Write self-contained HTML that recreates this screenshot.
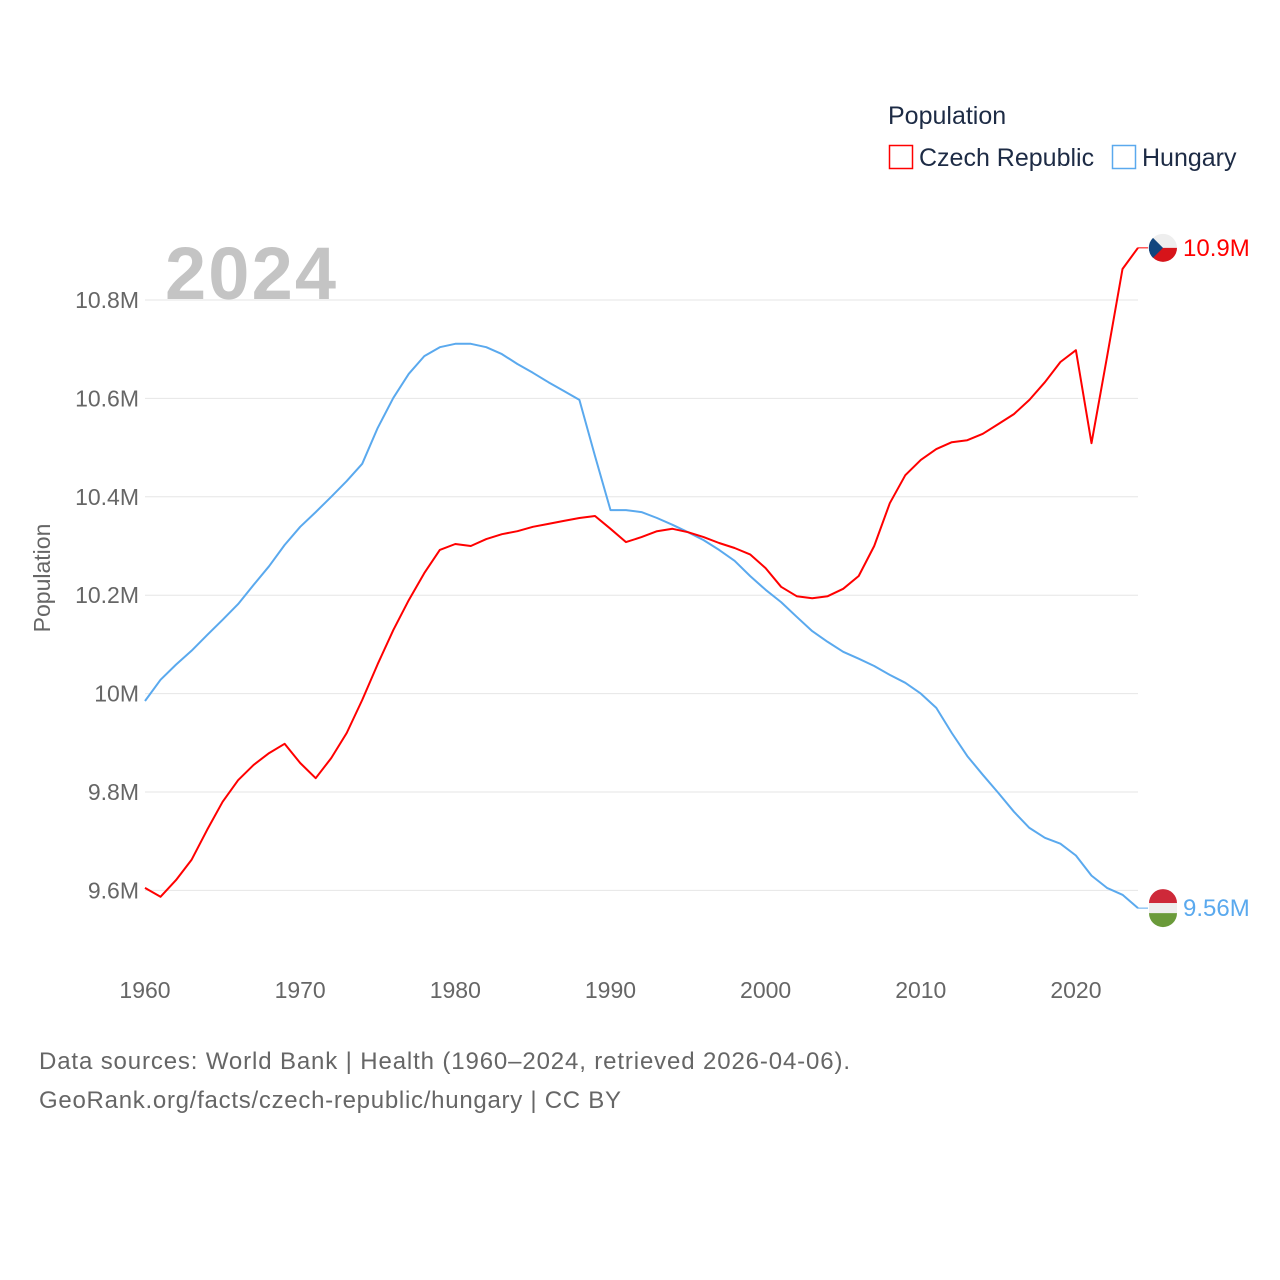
<!DOCTYPE html>
<html><head><meta charset="utf-8"><style>
html,body{margin:0;padding:0;background:#fff;}
svg{display:block;font-family:"Liberation Sans",sans-serif;}
</style></head><body>
<svg id="chart" width="1280" height="1280" viewBox="0 0 1280 1280">
<g id="grid"></g>
<g id="yticks"></g>
<g id="xticks"></g>
<text x="165" y="299" font-size="74" font-weight="bold" fill="#c4c4c4" textLength="171">2024</text>
<text transform="translate(50,578) rotate(-90)" text-anchor="middle" font-size="23" fill="#666">Population</text>
<g id="series"></g>
<g>
<text x="888" y="124" font-size="25" fill="#1d2b45">Population</text>
<g><rect x="889.5" y="145.5" width="23" height="23" fill="none" stroke="#f00" stroke-width="1.5"/><text x="919" y="166" font-size="25" fill="#1d2b45">Czech Republic</text></g>
<g><rect x="1112.5" y="145.5" width="23" height="23" fill="none" stroke="#5aa9ee" stroke-width="1.5"/><text x="1142" y="166" font-size="25" fill="#1d2b45">Hungary</text></g>
</g>
<text x="39" y="1069" font-size="24" fill="#666" textLength="811">Data sources: World Bank | Health (1960–2024, retrieved 2026-04-06).</text>
<text x="39" y="1108" font-size="24" fill="#666" textLength="582">GeoRank.org/facts/czech-republic/hungary | CC BY</text>
</svg>
<script>
const years=[];for(let y=1960;y<=2024;y++)years.push(y);
const czech=[9.605,9.587,9.621,9.662,9.723,9.780,9.824,9.855,9.879,9.898,9.859,9.828,9.869,9.920,9.987,10.060,10.129,10.190,10.245,10.292,10.304,10.300,10.314,10.324,10.330,10.339,10.345,10.351,10.357,10.361,10.335,10.308,10.318,10.330,10.335,10.328,10.318,10.306,10.296,10.283,10.255,10.217,10.198,10.194,10.198,10.213,10.239,10.300,10.387,10.444,10.475,10.497,10.511,10.515,10.528,10.548,10.568,10.597,10.633,10.674,10.698,10.509,10.684,10.863,10.906];
const hungary=[9.985,10.028,10.059,10.087,10.119,10.150,10.182,10.221,10.259,10.302,10.339,10.369,10.400,10.432,10.467,10.540,10.601,10.650,10.686,10.704,10.711,10.711,10.704,10.690,10.670,10.652,10.633,10.615,10.597,10.483,10.373,10.373,10.369,10.357,10.343,10.328,10.312,10.292,10.270,10.239,10.211,10.186,10.156,10.127,10.105,10.085,10.071,10.056,10.038,10.022,10.000,9.971,9.920,9.873,9.835,9.798,9.760,9.727,9.707,9.695,9.671,9.630,9.605,9.591,9.564];
const yTicks=[9.6,9.8,10,10.2,10.4,10.6,10.8];
const yTickLabels=["9.6M","9.8M","10M","10.2M","10.4M","10.6M","10.8M"];
const xTicks=[1960,1970,1980,1990,2000,2010,2020];
const endLabels=["10.9M","9.56M"];
const NS="http://www.w3.org/2000/svg";
const X=y=>145+(y-1960)*(1138-145)/64;
const Y=v=>300+(10.8-v)*492;
function mk(tag,attrs,parent){const e=document.createElementNS(NS,tag);for(const k in attrs)e.setAttribute(k,attrs[k]);parent.appendChild(e);return e;}
const grid=document.getElementById('grid'),yt=document.getElementById('yticks'),xt=document.getElementById('xticks'),ser=document.getElementById('series');
yTicks.forEach((v,i)=>{
 const l=mk('line',{x1:145,x2:1138,y1:Y(v),y2:Y(v),stroke:'#e6e6e6','stroke-width':1},grid);
 
 
 const t=mk('text',{x:139,y:Y(v)+8,'text-anchor':'end','font-size':23,fill:'#666'},yt);
 t.textContent=yTickLabels[i];
 
 
});
xTicks.forEach(y=>{
 const t=mk('text',{x:X(y),y:998,'text-anchor':'middle','font-size':23,fill:'#666'},xt);
 t.textContent=y;
 
 
});
function line(data,color,name,label,flag){
 const d=data.map((v,i)=>(i?'L':'M')+X(years[i]).toFixed(1)+','+Y(v).toFixed(1)).join('');
 const p=mk('path',{d:d,fill:'none',stroke:color,'stroke-width':2,'stroke-linejoin':'round'},ser);
 
 
 const last=data[data.length-1],ly=Y(last),lx=X(2024);
 const g=mk('g',{},ser);
 
 
 mk('line',{x1:lx,x2:lx+10,y1:ly,y2:ly,stroke:color,'stroke-width':1},g);
 const cx=lx+25;
 if(flag==='cz'){
  mk('circle',{cx:cx,cy:ly,r:14,fill:'#eee'},g);
  mk('path',{d:`M${cx-14},${ly}A14,14 0 0 0 ${cx+14},${ly}Z`,fill:'#d7141a'},g);
  mk('path',{d:`M${cx-10},${ly-10}L${cx},${ly}L${cx-10},${ly+10}A14,14 0 0 1 ${cx-10},${ly-10}Z`,fill:'#11457e'},g);
 }else{
  mk('path',{d:`M${cx-14},${ly-5}A14,14 0 0 1 ${cx+14},${ly-5}Z`,fill:'#ce2939'},g);
  mk('rect',{x:cx-14,y:ly-5,width:28,height:10,fill:'#eee'},g);
  mk('path',{d:`M${cx-14},${ly+5}A14,14 0 0 0 ${cx+14},${ly+5}Z`,fill:'#6a9a3a'},g);
 }
 const t=mk('text',{x:cx+20,y:ly+8,'font-size':24,fill:color},g);
 t.textContent=label;
}
line(hungary,'#5aa9ee','hungary',endLabels[1],'hu');
line(czech,'#ff0000','czech',endLabels[0],'cz');
</script>
</body></html>
